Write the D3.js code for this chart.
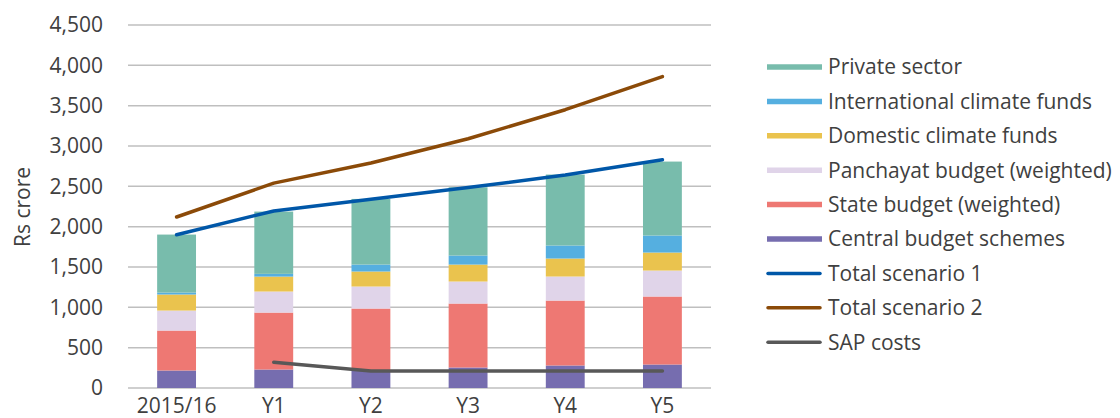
<!DOCTYPE html>
<html>
<head>
<meta charset="utf-8">
<script src="https://cdn.jsdelivr.net/npm/d3@7"></script>
<style>
  body { margin: 0; background: #fff; }
  svg text { font-family: "Open Sans", sans-serif; font-weight: 400; fill: #404040; }
</style>
</head>
<body>
<div id="chart"></div>
<script>
const categories = ['2015/16', 'Y1', 'Y2', 'Y3', 'Y4', 'Y5'];

// stacked bar series, bottom to top
const centralBudget = [217, 229, 220, 254, 279, 291];
const stateBudget = [495, 706, 765, 793, 805, 843];
const panchayatBudget = [248, 261, 273, 273, 298, 322];
const domesticFunds = [199, 185, 186, 210, 223, 223];
const internationalFunds = [24, 34, 86, 112, 161, 211];
const privateSector = [719, 772, 814, 847, 880, 917];

// line series
const totalScenario1 = [1900, 2195, 2340, 2485, 2640, 2830];
const totalScenario2 = [2120, 2540, 2790, 3090, 3450, 3860];
const sapCosts = [null, 320, 210, 210, 210, 210];

const yTicks = [0, 500, 1000, 1500, 2000, 2500, 3000, 3500, 4000, 4500];

const barSeries = [
  { key: 'central', name: 'Central budget schemes', values: centralBudget, color: '#766daf' },
  { key: 'state', name: 'State budget (weighted)', values: stateBudget, color: '#ee7873' },
  { key: 'panchayat', name: 'Panchayat budget (weighted)', values: panchayatBudget, color: '#e0d4e9' },
  { key: 'domestic', name: 'Domestic climate funds', values: domesticFunds, color: '#eac34e' },
  { key: 'international', name: 'International climate funds', values: internationalFunds, color: '#55afe0' },
  { key: 'private', name: 'Private sector', values: privateSector, color: '#78bcac' }
];
const lineSeries = [
  { name: 'Total scenario 1', values: totalScenario1, color: '#0057a8' },
  { name: 'Total scenario 2', values: totalScenario2, color: '#8b4a08' },
  { name: 'SAP costs', values: sapCosts, color: '#585858' }
];

const W = 1120, H = 418;
const margin = { top: 25, right: 409, bottom: 30, left: 128 };
const width = W - margin.left - margin.right;
const height = H - margin.top - margin.bottom;

const svg = d3.select('#chart').append('svg')
  .attr('width', W)
  .attr('height', H);

const g = svg.append('g')
  .attr('transform', 'translate(' + margin.left + ',' + margin.top + ')');

const x = d3.scaleBand().domain(categories).range([0, width]).paddingInner(0.6).paddingOuter(0.3);
const y = d3.scaleLinear().domain([0, 4500]).range([height, 0]);

// gridlines
g.append('g')
  .selectAll('line')
  .data(yTicks)
  .enter().append('line')
  .attr('x1', 0)
  .attr('x2', width)
  .attr('y1', d => y(d))
  .attr('y2', d => y(d))
  .attr('stroke', '#bfbfbf')
  .attr('stroke-width', 1.5);

// y tick labels
g.append('g')
  .selectAll('text')
  .data(yTicks)
  .enter().append('text')
  .attr('x', -25)
  .attr('y', d => y(d))
  .attr('dy', '0.35em')
  .attr('text-anchor', 'end')
  .style('font-size', '21px')
  .text(d => d3.format(',')(d));

// x labels
g.append('g')
  .selectAll('text')
  .data(categories)
  .enter().append('text')
  .attr('x', d => x(d) + x.bandwidth() / 2)
  .attr('y', height + 25)
  .attr('text-anchor', 'middle')
  .style('font-size', '21px')
  .text(d => d);

// y axis title
svg.append('text')
  .attr('transform', 'translate(30,' + 207 + ') rotate(-90)')
  .attr('text-anchor', 'middle')
  .style('font-size', '21px')
  .text('Rs crore');

// stacked bars
const table = categories.map((c, i) => {
  const row = { category: c };
  barSeries.forEach(s => { row[s.key] = s.values[i]; });
  return row;
});
const stack = d3.stack().keys(barSeries.map(s => s.key))(table);

g.append('g')
  .selectAll('g')
  .data(stack)
  .enter().append('g')
  .attr('fill', (d, i) => barSeries[i].color)
  .selectAll('rect')
  .data(d => d)
  .enter().append('rect')
  .attr('x', d => x(d.data.category))
  .attr('y', d => y(d[1]))
  .attr('width', x.bandwidth())
  .attr('height', d => y(d[0]) - y(d[1]));

// lines
const line = d3.line()
  .defined(d => d.v != null)
  .x(d => x(d.c) + x.bandwidth() / 2)
  .y(d => y(d.v));

lineSeries.forEach(s => {
  g.append('path')
    .datum(categories.map((c, i) => ({ c: c, v: s.values[i] })))
    .attr('fill', 'none')
    .attr('stroke', s.color)
    .attr('stroke-width', 3.5)
    .attr('stroke-linecap', 'round')
    .attr('stroke-linejoin', 'round')
    .attr('d', line);
});

// legend
const legendItems = barSeries.slice().reverse().map(s => ({ name: s.name, color: s.color, type: 'bar' }))
  .concat(lineSeries.map(s => ({ name: s.name, color: s.color, type: 'line' })));

const legend = svg.append('g').attr('transform', 'translate(767,67)');
const item = legend.selectAll('g')
  .data(legendItems)
  .enter().append('g')
  .attr('transform', (d, i) => 'translate(0,' + (i * 34.4) + ')');

item.append('line')
  .attr('x1', d => d.type === 'bar' ? 0 : 1)
  .attr('x2', d => d.type === 'bar' ? 55 : 53)
  .attr('y1', 0)
  .attr('y2', 0)
  .attr('stroke', d => d.color)
  .attr('stroke-width', d => d.type === 'bar' ? 5.5 : 3.5)
  .attr('stroke-linecap', d => d.type === 'bar' ? 'butt' : 'round');

item.append('text')
  .attr('x', 61)
  .attr('y', 0)
  .attr('dy', '0.35em')
  .style('font-size', '21px')
  .text(d => d.name);
</script>
</body>
</html>
